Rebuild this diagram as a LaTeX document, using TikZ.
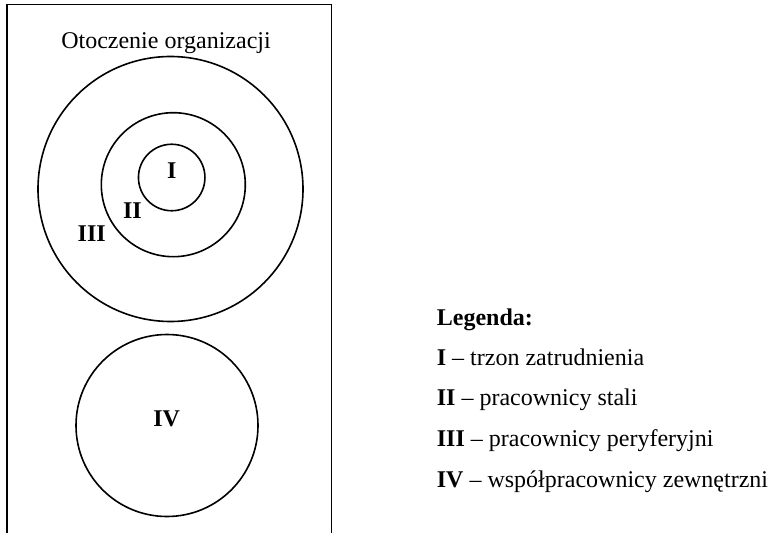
\documentclass[tikz,border=0pt]{standalone}
\usepackage{fontspec}
\setmainfont{Liberation Serif}
\begin{document}
\begin{tikzpicture}[x=1pt,y=-1pt,
  ring/.style={circle,draw,line width=1.6pt,inner sep=0pt},
  lab/.style={font=\fontsize{24}{28}\selectfont\bfseries,inner sep=0pt},
  txt/.style={font=\fontsize{24}{28}\selectfont,inner sep=0pt},
  leg/.style={font=\fontsize{24}{28}\selectfont,inner sep=0pt,anchor=base west}]
\useasboundingbox (0,0) rectangle (769,533);
% environment frame (open at the bottom)
\coordinate (bl) at (7,540);
\coordinate (tl) at (7,4.5);
\coordinate (tr) at (331.5,4.5);
\coordinate (br) at (331.5,540);
\draw[line width=1.5pt] (bl) -- (tl) -- (tr) -- (br);
\node[txt,anchor=base] (title) at (166,48.5) {Otoczenie organizacji};
% circles
\node[ring,minimum size=265pt] (c3) at (170.5,189) {};
\node[ring,minimum size=144pt] (c2) at (173.3,184.7) {};
\node[ring,minimum size=66.5pt] (c1) at (171.7,177.5) {};
\node[ring,minimum size=182pt] (c4) at (167,425.5) {};
% labels
\node[lab] (l1) at (171.7,171) {I};
\node[lab] (l2) at (132.5,211) {II};
\node[lab] (l3) at (91.7,234) {III};
\node[lab] (l4) at (166.7,418.5) {IV};
% legend
\node[leg,font=\fontsize{24}{28}\selectfont\bfseries] (lg) at (436.7,325) {Legenda:};
\node[leg] (g1) at (436.7,365) {\textbf{I} – trzon zatrudnienia};
\node[leg] (g2) at (436.7,405.5) {\textbf{II} – pracownicy stali};
\node[leg] (g3) at (436.7,446.5) {\textbf{III} – pracownicy peryferyjni};
\node[leg] (g4) at (436.7,487) {\textbf{IV} – współpracownicy zewnętrzni};
\end{tikzpicture}
\end{document}
